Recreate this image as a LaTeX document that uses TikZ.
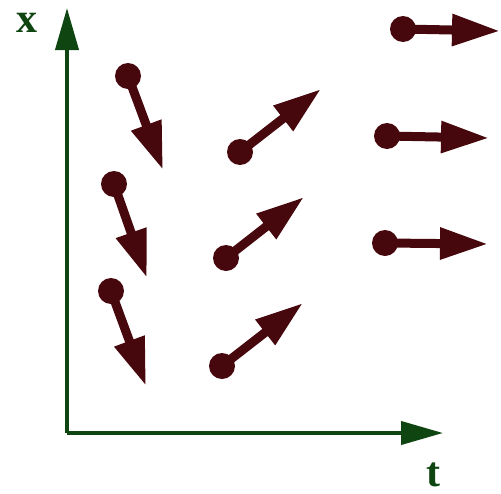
\documentclass[tikz,border=0pt]{standalone}
\usepackage{fontspec}
\setmainfont{Liberation Serif}
\usepackage{tikz}
\usetikzlibrary{arrows.meta}
\definecolor{pino}{HTML}{0F4510}
\definecolor{granate}{HTML}{46070D}
\tikzset{
  eje/.style={draw=pino, line width=4pt, -{Triangle[length=42pt, width=23pt]}},
  punto/.style={circle, fill=granate, minimum size=26pt, inner sep=0pt},
  flecha/.style={draw=granate, line width=9pt, -{Triangle[length=48pt, width=30pt]}, shorten <=-4pt},
  etiq/.style={text=pino, font=\fontsize{42}{42}\selectfont\bfseries, inner sep=0pt},
}
\begin{document}
\begin{tikzpicture}[x=1pt, y=-1pt]
  \useasboundingbox (0,0) rectangle (501,493);
  % ejes
  \coordinate (o) at (67,433);
  \coordinate (xtip) at (67,8);
  \coordinate (ttip) at (443,433);
  \draw[eje] (o) -- (xtip);
  \draw[eje] (o) -- (ttip);
  \node[etiq] (lx) at (27,23) {x};
  \node[etiq] (lt) at (433,475) {t};
  % vectores
  \foreach \n/\px/\py/\qx/\qy in {1/128/76/163/170, 2/114/184/147/278, 3/111/291/146/386,
                                   4/240/152/321/89, 5/226/258/304/197, 6/222/366/303/303,
                                   7/403/29/500/31, 8/387/136/489/138, 9/385/243/488/244} {
    \node[punto] (p\n) at (\px,\py) {};
    \coordinate (q\n) at (\qx,\qy);
    \draw[flecha] (p\n) -- (q\n);
  }
\end{tikzpicture}
\end{document}
